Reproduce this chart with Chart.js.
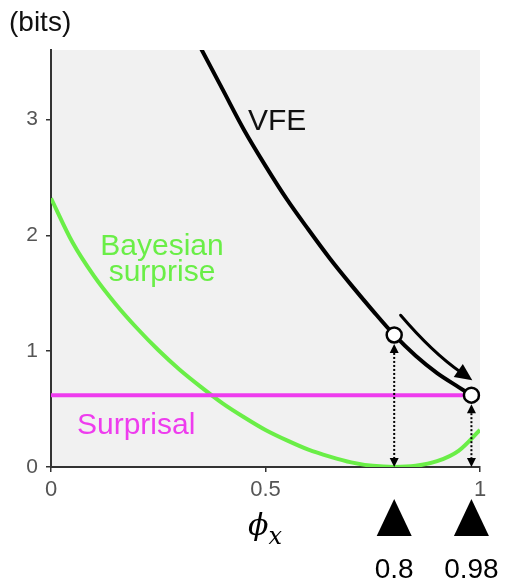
<!DOCTYPE html>
<html>
<head>
<meta charset="utf-8">
<script src="https://cdn.jsdelivr.net/npm/chart.js@4.4.1/dist/chart.umd.min.js"></script>
<style>
  html, body { margin: 0; padding: 0; background: #ffffff; }
  #wrap { width: 507px; height: 583px; }
</style>
</head>
<body>
<div id="wrap"><canvas id="c" width="507" height="583"></canvas></div>
<script>
// ---- data ----
const phiGrid = [0, 0.05, 0.1, 0.15, 0.2, 0.25, 0.3, 0.35, 0.4, 0.45, 0.5, 0.55, 0.6, 0.65, 0.7, 0.75, 0.8, 0.85, 0.9, 0.95, 1.0];
const bayesianSurprise = [2.32, 1.94, 1.65, 1.41, 1.20, 1.01, 0.84, 0.69, 0.55, 0.43, 0.32, 0.23, 0.15, 0.09, 0.04, 0.01, 0.00, 0.01, 0.05, 0.14, 0.32];
const vfePhi = [0.30, 0.35, 0.40, 0.45, 0.50, 0.55, 0.60, 0.65, 0.70, 0.75, 0.80, 0.85, 0.90, 0.95, 0.98];
const vfeValues = [3.97, 3.61, 3.26, 2.91, 2.60, 2.31, 2.05, 1.80, 1.57, 1.35, 1.14, 0.96, 0.81, 0.69, 0.62];
const surprisalPhi = [0, 1];
const surprisalValues = [0.62, 0.62];
const markPhi = [0.8, 0.98];
const markVFE = [1.14, 0.62];
const markLabels = ['0.8', '0.98'];
const xTickValues = [0, 0.5, 1];
const yTickValues = [0, 1, 2, 3];
const yMax = 3.6;

const GREEN = '#6aee47';
const MAGENTA = '#ee3cee';
const SANS = "'Liberation Sans', Arial, Helvetica, sans-serif";
const SERIF = "'DejaVu Serif', 'Liberation Serif', serif";

const zip = (xs, ys) => xs.map((x, i) => ({ x: x, y: ys[i] }));

const decorPlugin = {
  id: 'decor',
  beforeDraw(chart) {
    const a = chart.chartArea, ctx = chart.ctx;
    ctx.save();
    ctx.fillStyle = '#f1f1f1';
    ctx.fillRect(a.left, a.top, a.right - a.left, a.bottom - a.top);
    ctx.restore();
  },
  afterDatasetsDraw(chart) {
    const ctx = chart.ctx, xs = chart.scales.x, ys = chart.scales.y;
    const y0 = ys.getPixelForValue(0);
    ctx.save();
    // dotted double arrows from the marked points down to zero
    markPhi.forEach((p, i) => {
      const px = xs.getPixelForValue(p);
      const pyTop = ys.getPixelForValue(markVFE[i]) + 9;
      const head = 9, hw = 4.5;
      ctx.strokeStyle = '#000';
      ctx.lineWidth = 2;
      ctx.setLineDash([2, 2]);
      ctx.beginPath();
      ctx.moveTo(px, pyTop + head);
      ctx.lineTo(px, y0 - head);
      ctx.stroke();
      ctx.setLineDash([]);
      ctx.fillStyle = '#000';
      ctx.beginPath();
      ctx.moveTo(px, pyTop);
      ctx.lineTo(px - hw, pyTop + head);
      ctx.lineTo(px + hw, pyTop + head);
      ctx.closePath();
      ctx.fill();
      ctx.beginPath();
      ctx.moveTo(px, y0);
      ctx.lineTo(px - hw, y0 - head);
      ctx.lineTo(px + hw, y0 - head);
      ctx.closePath();
      ctx.fill();
    });
    // curved arrow showing the move from 0.8 to 0.98
    const sx = xs.getPixelForValue(0.815), sy = ys.getPixelForValue(1.31);
    const cx = xs.getPixelForValue(0.89), cy = ys.getPixelForValue(0.985);
    const ex = xs.getPixelForValue(0.982), ey = ys.getPixelForValue(0.75);
    const ang = Math.atan2(ey - cy, ex - cx);
    const hl = 17, hwid = 8;
    const bx = ex - hl * Math.cos(ang), by = ey - hl * Math.sin(ang);
    ctx.strokeStyle = '#000';
    ctx.lineWidth = 3;
    ctx.lineCap = 'round';
    ctx.beginPath();
    ctx.moveTo(sx, sy);
    ctx.quadraticCurveTo(cx, cy, bx + 3 * Math.cos(ang), by + 3 * Math.sin(ang));
    ctx.stroke();
    ctx.fillStyle = '#000';
    ctx.beginPath();
    ctx.moveTo(ex, ey);
    ctx.lineTo(bx + hwid * Math.sin(ang), by - hwid * Math.cos(ang));
    ctx.lineTo(bx - hwid * Math.sin(ang), by + hwid * Math.cos(ang));
    ctx.closePath();
    ctx.fill();
    ctx.restore();
  },
  afterDraw(chart) {
    const ctx = chart.ctx, xs = chart.scales.x;
    ctx.save();
    ctx.textBaseline = 'alphabetic';
    // y unit
    ctx.fillStyle = '#111';
    ctx.font = '28px ' + SANS;
    ctx.textAlign = 'left';
    ctx.fillText('(bits)', 9, 31);
    // series labels
    ctx.font = '30px ' + SANS;
    ctx.fillStyle = '#111';
    ctx.fillText('VFE', 248, 130);
    ctx.fillStyle = GREEN;
    ctx.textAlign = 'center';
    ctx.fillText('Bayesian', 162, 255);
    ctx.fillText('surprise', 162, 281);
    ctx.textAlign = 'left';
    ctx.fillStyle = MAGENTA;
    ctx.fillText('Surprisal', 77, 434);
    // axis title phi_x
    const mid = xs.getPixelForValue(0.5);
    ctx.fillStyle = '#000';
    ctx.font = 'italic 30px ' + SERIF;
    ctx.textAlign = 'right';
    ctx.fillText('\u03d5', mid + 3, 535);
    ctx.font = 'italic 24px ' + SERIF;
    ctx.textAlign = 'left';
    ctx.fillText('x', mid + 3, 544);
    // triangles and values under the axis
    markPhi.forEach((p, i) => {
      const px = xs.getPixelForValue(p);
      ctx.fillStyle = '#000';
      ctx.beginPath();
      ctx.moveTo(px, 499);
      ctx.lineTo(px - 17.5, 536);
      ctx.lineTo(px + 17.5, 536);
      ctx.closePath();
      ctx.fill();
      ctx.font = '28px ' + SANS;
      ctx.textAlign = 'center';
      ctx.fillText(markLabels[i], px, 578);
    });
    ctx.restore();
  }
};

Chart.defaults.font.family = SANS;

new Chart(document.getElementById('c'), {
  type: 'line',
  data: {
    datasets: [
      {
        label: 'Bayesian surprise',
        order: 3,
        data: zip(phiGrid, bayesianSurprise),
        borderColor: GREEN,
        borderWidth: 4,
        pointRadius: 0,
        cubicInterpolationMode: 'monotone',
        fill: false,
        clip: 0
      },
      {
        label: 'Surprisal',
        order: 2,
        data: zip(surprisalPhi, surprisalValues),
        borderColor: MAGENTA,
        borderWidth: 4,
        pointRadius: 0,
        fill: false,
        clip: 0
      },
      {
        label: 'VFE',
        order: 1,
        data: zip(vfePhi, vfeValues),
        borderColor: '#000',
        borderWidth: 4,
        pointRadius: 0,
        cubicInterpolationMode: 'monotone',
        fill: false,
        clip: 0
      },
      {
        label: 'marks',
        order: 0,
        data: zip(markPhi, markVFE),
        showLine: false,
        pointRadius: 7.5,
        pointBackgroundColor: '#ffffff',
        pointBorderColor: '#000000',
        pointBorderWidth: 2.5,
        clip: false
      }
    ]
  },
  options: {
    responsive: false,
    animation: false,
    events: [],
    layout: { padding: { top: 50, right: 27, left: 0, bottom: 0 } },
    plugins: { legend: { display: false }, tooltip: { enabled: false }, title: { display: false } },
    scales: {
      x: {
        type: 'linear',
        min: 0, max: 1,
        afterBuildTicks: s => { s.ticks = xTickValues.map(v => ({ value: v })); },
        afterFit: s => { s.height = 116; },
        border: { display: true, color: '#333', width: 2 },
        grid: { drawOnChartArea: false, drawTicks: true, tickLength: 5, color: '#333', lineWidth: 1.5 },
        ticks: { color: '#555', font: { size: 22 }, padding: 5, maxRotation: 0, callback: v => String(v) }
      },
      y: {
        type: 'linear',
        min: 0, max: yMax,
        afterBuildTicks: s => { s.ticks = yTickValues.map(v => ({ value: v })); },
        afterFit: s => { s.width = 51; },
        border: { display: true, color: '#333', width: 2 },
        grid: { drawOnChartArea: false, drawTicks: true, tickLength: 5, color: '#333', lineWidth: 1.5 },
        ticks: { color: '#555', font: { size: 21 }, padding: 8, callback: v => String(v) }
      }
    }
  },
  plugins: [decorPlugin]
});
</script>
</body>
</html>
